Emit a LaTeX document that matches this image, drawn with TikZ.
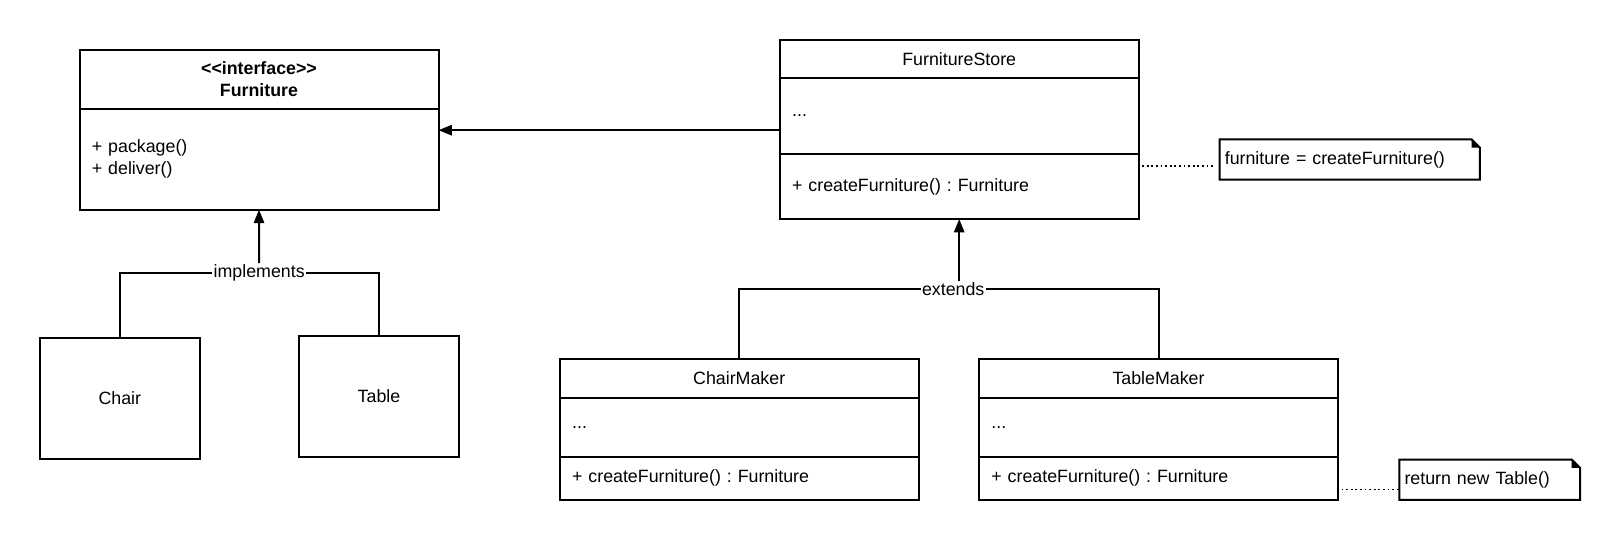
\documentclass[tikz,border=0pt]{standalone}
\usepackage{fontspec}
\setmainfont{Liberation Sans}
\usetikzlibrary{arrows.meta}
\frenchspacing

\tikzset{
	umlpart/.style={draw, line width=2pt, anchor=north west, outer sep=0pt, inner xsep=12.4pt, inner ysep=0pt, text width=334.2pt, minimum height=#1, align=left},
	plainbox/.style={draw, line width=2pt, minimum width=160pt, minimum height=121pt},
	note/.style={anchor=north west, outer sep=0pt, inner xsep=5.2pt, inner ysep=0pt, minimum height=40.3pt, align=left},
	relation/.style={fill=white, inner sep=1pt},
	inherit/.style={line width=2pt, -{Triangle[length=13.4pt,width=10.3pt]}},
	link/.style={line width=2pt},
	notelink/.style={line width=1.8pt, dash pattern=on 1.8pt off 2.8pt},
}

%% outline of a note with its folded corner
\newcommand{\drawnote}[1]{%
	\draw[line width=2pt] (#1.north west) -- ([xshift=-8.3pt]#1.north east) -- ([yshift=-8.3pt]#1.north east) -- (#1.south east) -- (#1.south west) -- cycle;
	\fill ([xshift=-8.3pt]#1.north east) -- ([xshift=-8.3pt,yshift=-8.3pt]#1.north east) -- ([yshift=-8.3pt]#1.north east) -- cycle;
}

\begin{document}
\begin{tikzpicture}[x=1pt, y=-1pt, font=\fontsize{17.8}{21.7}\selectfont]

		\useasboundingbox (0,0) rectangle (1620,558);

		\node[umlpart=58.9pt, align=center] (FurnitureTop) at (79.5,49.6) {\textbf{<\kern0pt<interface>\kern0pt>}\\\textbf{Furniture}};
		\node[umlpart=101.2pt] (FurnitureOps) at (FurnitureTop.south west) {+ package()\\+ deliver()};

		\node[plainbox] (Chair) at (119.8,398.6) {Chair};
		\node[plainbox] (Table) at (379,396.6) {Table};

		\node[umlpart=37.2pt, align=center] (StoreTop) at (779.7,40.3) {FurnitureStore};
		\node[umlpart=76.4pt] (StoreAttrs) at (StoreTop.south west) {...};
		\node[umlpart=65.1pt] (StoreOps) at (StoreAttrs.south west) {+ createFurniture() : Furniture};

		\node[umlpart=38.2pt, align=center] (ChairMakerTop) at (559.7,359.4) {ChairMaker};
		\node[umlpart=58.9pt] (ChairMakerAttrs) at (ChairMakerTop.south west) {...};
		\node[umlpart=43.4pt] (ChairMakerOps) at (ChairMakerAttrs.south west) {+ createFurniture() : Furniture};

		\node[umlpart=38.2pt, align=center] (TableMakerTop) at (979,359.4) {TableMaker};
		\node[umlpart=58.9pt] (TableMakerAttrs) at (TableMakerTop.south west) {...};
		\node[umlpart=43.4pt] (TableMakerOps) at (TableMakerAttrs.south west) {+ createFurniture() : Furniture};

        \node[note, minimum width=260.2pt, text width=249.8pt] (StoreNote) at (1219.6,139.4) {furniture = createFurniture()};
        \node[note, minimum width=180.7pt, text width=170.3pt] (TableNote) at (1399.3,459.6) {return new Table()};
        \drawnote{StoreNote}
        \drawnote{TableNote}

		\draw[inherit] ([yshift=-14.5pt]StoreAttrs.west) to ([yshift=-14.5pt]StoreAttrs.west -| FurnitureOps.east);

        %% implements
		\node[relation] (Implements) at (259.2,272.6) {implements};
		\draw[link] (Chair.north) |- (Implements);
		\draw[link] (Table.north) |- (Implements);
		\draw[inherit] (Implements) to (FurnitureOps.south);

        %% extends
		\node[relation] (Extends) at (953.2,289.2) {extends};
		\draw[link] (ChairMakerTop.north) |- (Extends);
		\draw[link] (TableMakerTop.north) |- (Extends);
		\draw[inherit] (Extends.north -| StoreOps.south) to (StoreOps.south);

        %% notes
		\coordinate (StoreDot) at (1142.2,166.3);
		\coordinate (TableDot) at (1341.5,489.5);
		\draw[notelink, shorten >=5.2pt] (StoreDot) to (StoreDot -| StoreNote.west);
		\draw[notelink] (TableDot) to (TableDot -| TableNote.west);
\end{tikzpicture}
\end{document}
